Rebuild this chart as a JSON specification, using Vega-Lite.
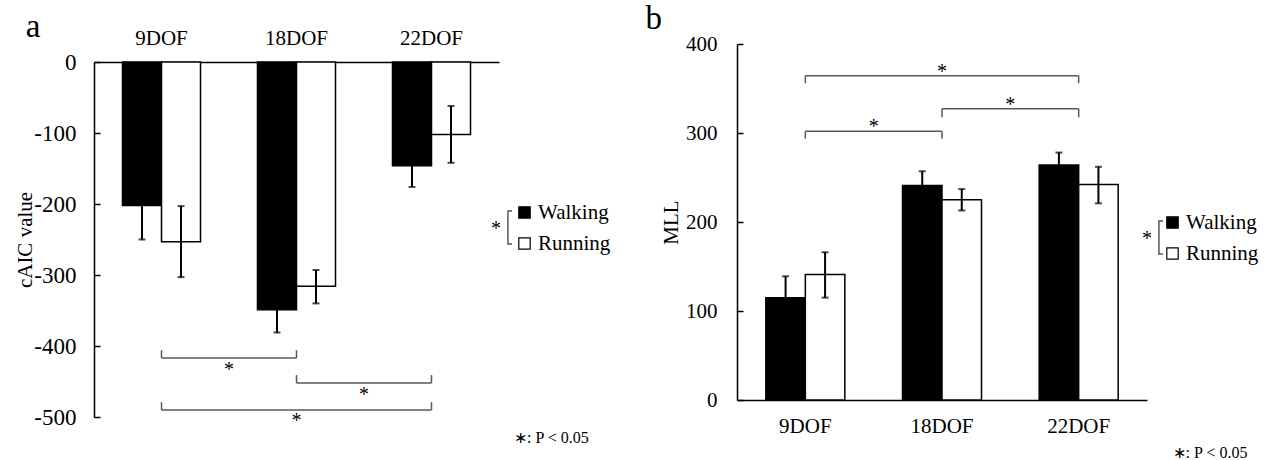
{
  "$schema": "https://vega.github.io/schema/vega-lite/v6.json",
  "padding": {"left": 14, "top": 3, "right": 0, "bottom": 0},
  "autosize": {"type": "pad"},
  "config": {
    "font": "Liberation Serif",
    "view": {"stroke": null},
    "axis": {"labelFont": "Liberation Serif", "titleFont": "Liberation Serif", "labelFontSize": 21, "titleFontSize": 21, "titleFontWeight": "normal", "labelColor": "#000", "titleColor": "#000", "domainColor": "#000", "tickColor": "#000", "domainWidth": 1.5, "tickWidth": 1.5, "grid": false},
    "legend": {"labelFont": "Liberation Serif", "titleFont": "Liberation Serif", "labelColor": "#000", "titleColor": "#000"},
    "title": {"font": "Liberation Serif", "fontWeight": "normal", "color": "#000"},
    "text": {"font": "Liberation Serif"}
  },
  "datasets": {
    "cAIC": [
      {"dof": "9DOF", "gait": "Walking", "value": -202, "lo": -250, "hi": -154},
      {"dof": "9DOF", "gait": "Running", "value": -253, "lo": -303, "hi": -203},
      {"dof": "18DOF", "gait": "Walking", "value": -349, "lo": -381, "hi": -317},
      {"dof": "18DOF", "gait": "Running", "value": -316, "lo": -340, "hi": -293},
      {"dof": "22DOF", "gait": "Walking", "value": -146, "lo": -176, "hi": -116},
      {"dof": "22DOF", "gait": "Running", "value": -102, "lo": -142, "hi": -62}
    ],
    "cAICsig": [
      {"from": "9DOF", "to": "18DOF", "line": -417, "tip": -406},
      {"from": "18DOF", "to": "22DOF", "line": -452, "tip": -441},
      {"from": "9DOF", "to": "22DOF", "line": -490, "tip": -479}
    ],
    "cAICstar": [
      {"at": "18DOF", "place": "edge", "y": -434, "label": "*"},
      {"at": "22DOF", "place": "edge", "y": -469, "label": "*"},
      {"at": "18DOF", "place": "center", "y": -506, "label": "*"}
    ],
    "MLL": [
      {"dof": "9DOF", "gait": "Walking", "value": 115, "lo": 92, "hi": 139},
      {"dof": "9DOF", "gait": "Running", "value": 141, "lo": 115, "hi": 166},
      {"dof": "18DOF", "gait": "Walking", "value": 241, "lo": 224, "hi": 257},
      {"dof": "18DOF", "gait": "Running", "value": 225, "lo": 213, "hi": 237},
      {"dof": "22DOF", "gait": "Walking", "value": 264, "lo": 250, "hi": 278},
      {"dof": "22DOF", "gait": "Running", "value": 242, "lo": 221, "hi": 262}
    ],
    "MLLsig": [
      {"from": "9DOF", "to": "18DOF", "line": 302, "tip": 293.6},
      {"from": "18DOF", "to": "22DOF", "line": 327.3, "tip": 317.6},
      {"from": "9DOF", "to": "22DOF", "line": 364.4, "tip": 356}
    ],
    "MLLstar": [
      {"at": "18DOF", "place": "edge", "y": 307, "label": "*"},
      {"at": "22DOF", "place": "edge", "y": 332, "label": "*"},
      {"at": "18DOF", "place": "center", "y": 369, "label": "*"}
    ]
  },
  "spacing": 34,
  "resolve": {
    "scale": {"x": "independent", "y": "independent", "xOffset": "independent", "fill": "independent", "stroke": "independent"},
    "legend": {"fill": "independent", "stroke": "independent"}
  },
  "hconcat": [
    {
      "width": 405,
      "height": 373,
      "title": {"text": "a", "anchor": "start", "frame": "bounds", "fontSize": 33, "offset": -17, "dx": 11},
      "layer": [
        {
          "data": {"name": "cAIC"},
          "mark": {"type": "bar", "stroke": "#000", "strokeWidth": 1.5},
          "encoding": {
            "x": {"field": "dof", "type": "nominal", "scale": {"domain": ["9DOF", "18DOF", "22DOF"], "paddingInner": 0, "paddingOuter": 0}, "axis": {"orient": "top", "title": null, "ticks": false, "labelAngle": 0, "labelPadding": 14, "offset": -18}},
            "xOffset": {"field": "gait", "type": "nominal", "scale": {"domain": ["Walking", "Running"], "paddingOuter": 0.73, "paddingInner": 0}},
            "y": {"field": "value", "type": "quantitative", "scale": {"domain": [-500, 0], "range": [373, 18], "nice": false}, "axis": {"title": "cAIC value", "values": [0, -100, -200, -300, -400, -500], "tickSize": -6, "labelPadding": 24, "labelFontSize": 23, "titlePadding": -2, "labelExpr": "'' + datum.value"}},
            "fill": {"field": "gait", "type": "nominal", "scale": {"domain": ["Walking", "Running"], "range": ["#000000", "#ffffff"]},
              "legend": {"orient": "none", "legendX": 420, "legendY": 158, "title": "∗: P < 0.05", "titleOrient": "bottom", "titleAnchor": "start", "titlePadding": 176, "titleFontSize": 16, "titleFontWeight": "normal", "symbolType": "square", "symbolSize": 130, "symbolStrokeColor": "#000", "symbolStrokeWidth": 1.2, "labelFontSize": 21, "labelOffset": 3, "rowPadding": 9}}
          }
        },
        {
          "data": {"name": "cAIC"},
          "mark": {"type": "rule", "color": "#000", "strokeWidth": 2},
          "encoding": {
            "x": {"field": "dof", "type": "nominal"},
            "xOffset": {"field": "gait", "type": "nominal"},
            "y": {"field": "lo", "type": "quantitative"},
            "y2": {"field": "hi"}
          }
        },
        {
          "data": {"name": "cAIC"},
          "mark": {"type": "tick", "color": "#000", "thickness": 2, "size": 7},
          "encoding": {
            "x": {"field": "dof", "type": "nominal"},
            "xOffset": {"field": "gait", "type": "nominal"},
            "y": {"field": "lo", "type": "quantitative"}
          }
        },
        {
          "data": {"name": "cAIC"},
          "mark": {"type": "tick", "color": "#000", "thickness": 2, "size": 7},
          "encoding": {
            "x": {"field": "dof", "type": "nominal"},
            "xOffset": {"field": "gait", "type": "nominal"},
            "y": {"field": "hi", "type": "quantitative"}
          }
        },
        {
          "data": {"name": "cAICsig"},
          "mark": {"type": "rule", "strokeWidth": 1.5},
          "encoding": {
            "x": {"field": "from", "type": "nominal"},
            "x2": {"field": "to"},
            "y": {"field": "line", "type": "quantitative"},
            "stroke": {"datum": "sig", "type": "nominal", "scale": {"range": ["#595959"]},
              "legend": {"orient": "none", "legendX": 397, "legendY": 166, "title": "*", "titleOrient": "left", "titleAngle": 0, "titleFontSize": 20, "titleFontWeight": "normal", "titlePadding": 6, "symbolType": "M-0.75,-1L-1,-1L-1,1L-0.75,1", "symbolSize": 1100, "symbolStrokeWidth": 1.5, "symbolFillColor": "transparent", "labelExpr": "''", "labelOffset": 0}}
          }
        },
        {
          "data": {"name": "cAICsig"},
          "mark": {"type": "rule", "strokeWidth": 1.5},
          "encoding": {
            "x": {"field": "from", "type": "nominal"},
            "y": {"field": "line", "type": "quantitative"},
            "y2": {"field": "tip"},
            "stroke": {"datum": "sig", "type": "nominal"}
          }
        },
        {
          "data": {"name": "cAICsig"},
          "mark": {"type": "rule", "strokeWidth": 1.5},
          "encoding": {
            "x": {"field": "to", "type": "nominal"},
            "y": {"field": "line", "type": "quantitative"},
            "y2": {"field": "tip"},
            "stroke": {"datum": "sig", "type": "nominal"}
          }
        },
        {
          "data": {"name": "cAICstar"},
          "transform": [{"filter": "datum.place == 'edge'"}],
          "mark": {"type": "text", "fontSize": 20, "baseline": "middle", "color": "#000"},
          "encoding": {
            "x": {"field": "at", "type": "nominal", "bandPosition": 0},
            "y": {"field": "y", "type": "quantitative"},
            "text": {"field": "label"}
          }
        },
        {
          "data": {"name": "cAICstar"},
          "transform": [{"filter": "datum.place == 'center'"}],
          "mark": {"type": "text", "fontSize": 20, "baseline": "middle", "color": "#000"},
          "encoding": {
            "x": {"field": "at", "type": "nominal"},
            "y": {"field": "y", "type": "quantitative"},
            "text": {"field": "label"}
          }
        }
      ]
    },
    {
      "width": 410,
      "height": 356,
      "title": {"text": "b", "anchor": "start", "frame": "bounds", "fontSize": 33, "offset": -3, "dx": -15},
      "layer": [
        {
          "data": {"name": "MLL"},
          "mark": {"type": "bar", "stroke": "#000", "strokeWidth": 1.5},
          "encoding": {
            "x": {"field": "dof", "type": "nominal", "scale": {"domain": ["9DOF", "18DOF", "22DOF"], "paddingInner": 0, "paddingOuter": 0}, "axis": {"orient": "bottom", "title": null, "ticks": false, "labelAngle": 0, "labelPadding": 15}},
            "xOffset": {"field": "gait", "type": "nominal", "scale": {"domain": ["Walking", "Running"], "paddingOuter": 0.73, "paddingInner": 0}},
            "y": {"field": "value", "type": "quantitative", "scale": {"domain": [0, 400], "nice": false}, "axis": {"title": "MLL", "values": [0, 100, 200, 300, 400], "tickSize": -6, "labelPadding": 26, "titlePadding": 4, "labelExpr": "'' + datum.value"}},
            "fill": {"field": "gait", "type": "nominal", "scale": {"domain": ["Walking", "Running"], "range": ["#000000", "#ffffff"]},
              "legend": {"orient": "none", "legendX": 425, "legendY": 168, "title": "∗: P < 0.05", "titleOrient": "bottom", "titleAnchor": "middle", "titlePadding": 181, "titleFontSize": 16, "titleFontWeight": "normal", "symbolType": "square", "symbolSize": 130, "symbolStrokeColor": "#000", "symbolStrokeWidth": 1.2, "labelFontSize": 21, "labelOffset": 3, "rowPadding": 9}}
          }
        },
        {
          "data": {"name": "MLL"},
          "mark": {"type": "rule", "color": "#000", "strokeWidth": 2},
          "encoding": {
            "x": {"field": "dof", "type": "nominal"},
            "xOffset": {"field": "gait", "type": "nominal"},
            "y": {"field": "lo", "type": "quantitative"},
            "y2": {"field": "hi"}
          }
        },
        {
          "data": {"name": "MLL"},
          "mark": {"type": "tick", "color": "#000", "thickness": 2, "size": 7},
          "encoding": {
            "x": {"field": "dof", "type": "nominal"},
            "xOffset": {"field": "gait", "type": "nominal"},
            "y": {"field": "lo", "type": "quantitative"}
          }
        },
        {
          "data": {"name": "MLL"},
          "mark": {"type": "tick", "color": "#000", "thickness": 2, "size": 7},
          "encoding": {
            "x": {"field": "dof", "type": "nominal"},
            "xOffset": {"field": "gait", "type": "nominal"},
            "y": {"field": "hi", "type": "quantitative"}
          }
        },
        {
          "data": {"name": "MLLsig"},
          "mark": {"type": "rule", "strokeWidth": 1.5},
          "encoding": {
            "x": {"field": "from", "type": "nominal"},
            "x2": {"field": "to"},
            "y": {"field": "line", "type": "quantitative"},
            "stroke": {"datum": "sig", "type": "nominal", "scale": {"range": ["#595959"]},
              "legend": {"orient": "none", "legendX": 405, "legendY": 176, "title": "*", "titleOrient": "left", "titleAngle": 0, "titleFontSize": 20, "titleFontWeight": "normal", "titlePadding": 6, "symbolType": "M-0.75,-1L-1,-1L-1,1L-0.75,1", "symbolSize": 1100, "symbolStrokeWidth": 1.5, "symbolFillColor": "transparent", "labelExpr": "''", "labelOffset": 0}}
          }
        },
        {
          "data": {"name": "MLLsig"},
          "mark": {"type": "rule", "strokeWidth": 1.5},
          "encoding": {
            "x": {"field": "from", "type": "nominal"},
            "y": {"field": "line", "type": "quantitative"},
            "y2": {"field": "tip"},
            "stroke": {"datum": "sig", "type": "nominal"}
          }
        },
        {
          "data": {"name": "MLLsig"},
          "mark": {"type": "rule", "strokeWidth": 1.5},
          "encoding": {
            "x": {"field": "to", "type": "nominal"},
            "y": {"field": "line", "type": "quantitative"},
            "y2": {"field": "tip"},
            "stroke": {"datum": "sig", "type": "nominal"}
          }
        },
        {
          "data": {"name": "MLLstar"},
          "transform": [{"filter": "datum.place == 'edge'"}],
          "mark": {"type": "text", "fontSize": 20, "baseline": "middle", "color": "#000"},
          "encoding": {
            "x": {"field": "at", "type": "nominal", "bandPosition": 0},
            "y": {"field": "y", "type": "quantitative"},
            "text": {"field": "label"}
          }
        },
        {
          "data": {"name": "MLLstar"},
          "transform": [{"filter": "datum.place == 'center'"}],
          "mark": {"type": "text", "fontSize": 20, "baseline": "middle", "color": "#000"},
          "encoding": {
            "x": {"field": "at", "type": "nominal"},
            "y": {"field": "y", "type": "quantitative"},
            "text": {"field": "label"}
          }
        }
      ]
    }
  ]
}
